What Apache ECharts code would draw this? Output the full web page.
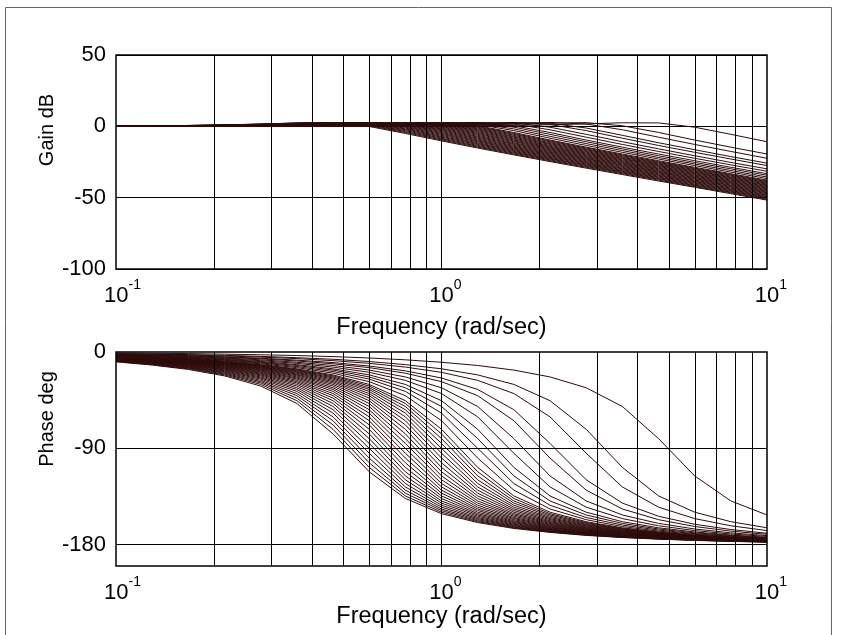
<!DOCTYPE html>
<html>
<head>
<meta charset="utf-8">
<script src="https://cdn.jsdelivr.net/npm/echarts@6/dist/echarts.min.js"></script>
<style>
  html, body { margin: 0; padding: 0; background: #fff; }
  #chart { width: 841px; height: 635px; }
</style>
</head>
<body>
<div id="chart"></div>
<script>
// Frequency samples (rad/sec), 9 per decade
const freq = [0.1, 0.1292, 0.1668, 0.2154, 0.2783, 0.3594, 0.4642, 0.5995, 0.7743, 1,
              1.2915, 1.6681, 2.1544, 2.7826, 3.5938, 4.6416, 5.9948, 7.7426, 10];

// Gain (dB) of each response in the family, one row per response
const gainDb = [
  [0.2,0.4,0.6,1.0,1.6,2.4,2.5,-0.1,-5.0,-10.2,-15.2,-20.0,-24.7,-29.3,-33.8,-38.3,-42.7,-47.2,-51.7],
  [0.2,0.4,0.6,1.0,1.6,2.3,2.6,0.4,-4.3,-9.6,-14.6,-19.4,-24.1,-28.7,-33.2,-37.7,-42.2,-46.6,-51.1],
  [0.2,0.3,0.6,0.9,1.5,2.2,2.7,0.9,-3.7,-8.9,-14.0,-18.8,-23.5,-28.1,-32.6,-37.1,-41.6,-46.1,-50.5],
  [0.2,0.3,0.5,0.9,1.4,2.1,2.7,1.3,-3.0,-8.3,-13.4,-18.2,-22.9,-27.5,-32.1,-36.6,-41.1,-45.5,-50.0],
  [0.2,0.3,0.5,0.8,1.3,2.0,2.7,1.6,-2.4,-7.6,-12.7,-17.6,-22.4,-27.0,-31.5,-36.0,-40.5,-45.0,-49.4],
  [0.2,0.3,0.5,0.8,1.2,1.9,2.6,1.9,-1.8,-7.0,-12.1,-17.0,-21.8,-26.4,-31.0,-35.5,-39.9,-44.4,-48.9],
  [0.2,0.3,0.4,0.7,1.2,1.8,2.6,2.2,-1.2,-6.3,-11.5,-16.4,-21.2,-25.8,-30.4,-34.9,-39.4,-43.9,-48.3],
  [0.1,0.2,0.4,0.7,1.1,1.7,2.5,2.4,-0.6,-5.6,-10.8,-15.8,-20.6,-25.3,-29.8,-34.3,-38.8,-43.3,-47.8],
  [0.1,0.2,0.4,0.6,1.0,1.6,2.4,2.5,-0.1,-5.0,-10.2,-15.2,-20.0,-24.7,-29.3,-33.8,-38.3,-42.7,-47.2],
  [0.1,0.2,0.4,0.6,1.0,1.6,2.3,2.6,0.4,-4.3,-9.6,-14.6,-19.4,-24.1,-28.7,-33.2,-37.7,-42.2,-46.6],
  [0.1,0.2,0.3,0.6,0.9,1.5,2.2,2.7,0.9,-3.7,-8.9,-14.0,-18.8,-23.5,-28.1,-32.6,-37.1,-41.6,-46.1],
  [0.1,0.2,0.3,0.5,0.9,1.4,2.1,2.7,1.3,-3.0,-8.3,-13.4,-18.2,-22.9,-27.5,-32.1,-36.6,-41.1,-45.5],
  [0.1,0.2,0.3,0.5,0.8,1.3,2.0,2.7,1.6,-2.4,-7.6,-12.7,-17.6,-22.4,-27.0,-31.5,-36.0,-40.5,-45.0],
  [0.1,0.2,0.3,0.5,0.8,1.2,1.9,2.6,1.9,-1.8,-7.0,-12.1,-17.0,-21.8,-26.4,-31.0,-35.5,-39.9,-44.4],
  [0.1,0.2,0.3,0.4,0.7,1.2,1.8,2.6,2.2,-1.2,-6.3,-11.5,-16.4,-21.2,-25.8,-30.4,-34.9,-39.4,-43.9],
  [0.1,0.1,0.2,0.4,0.7,1.1,1.7,2.5,2.4,-0.6,-5.6,-10.8,-15.8,-20.6,-25.3,-29.8,-34.3,-38.8,-43.3],
  [0.1,0.1,0.2,0.4,0.6,1.0,1.6,2.4,2.5,-0.1,-5.0,-10.2,-15.2,-20.0,-24.7,-29.3,-33.8,-38.3,-42.7],
  [0.1,0.1,0.2,0.4,0.6,1.0,1.6,2.3,2.6,0.4,-4.3,-9.6,-14.6,-19.4,-24.1,-28.7,-33.2,-37.7,-42.2],
  [0.1,0.1,0.2,0.3,0.6,0.9,1.5,2.2,2.7,0.9,-3.7,-8.9,-14.0,-18.8,-23.5,-28.1,-32.6,-37.1,-41.6],
  [0.1,0.1,0.2,0.3,0.5,0.9,1.4,2.1,2.7,1.3,-3.0,-8.3,-13.4,-18.2,-22.9,-27.5,-32.1,-36.6,-41.1],
  [0.1,0.1,0.2,0.3,0.5,0.8,1.3,2.0,2.7,1.6,-2.4,-7.6,-12.7,-17.6,-22.4,-27.0,-31.5,-36.0,-40.5],
  [0.1,0.1,0.2,0.3,0.5,0.8,1.2,1.9,2.6,1.9,-1.8,-7.0,-12.1,-17.0,-21.8,-26.4,-31.0,-35.5,-39.9],
  [0.0,0.1,0.2,0.3,0.4,0.7,1.2,1.8,2.6,2.2,-1.2,-6.3,-11.5,-16.4,-21.2,-25.8,-30.4,-34.9,-39.4],
  [0.0,0.1,0.1,0.2,0.4,0.7,1.1,1.7,2.5,2.4,-0.6,-5.6,-10.8,-15.8,-20.6,-25.3,-29.8,-34.3,-38.8],
  [0.0,0.1,0.1,0.2,0.4,0.6,1.0,1.6,2.4,2.5,-0.1,-5.0,-10.2,-15.2,-20.0,-24.7,-29.3,-33.8,-38.3],
  [0.0,0.1,0.1,0.2,0.4,0.6,1.0,1.6,2.3,2.6,0.4,-4.3,-9.6,-14.6,-19.4,-24.1,-28.7,-33.2,-37.7],
  [0.0,0.1,0.1,0.2,0.3,0.5,0.9,1.4,2.1,2.7,1.3,-3.0,-8.3,-13.4,-18.2,-22.9,-27.5,-32.1,-36.6],
  [0.0,0.1,0.1,0.2,0.3,0.5,0.8,1.2,1.9,2.6,1.9,-1.8,-7.0,-12.1,-17.0,-21.8,-26.4,-31.0,-35.5],
  [0.0,0.0,0.1,0.1,0.2,0.4,0.7,1.1,1.7,2.5,2.4,-0.6,-5.6,-10.8,-15.8,-20.6,-25.3,-29.8,-34.3],
  [0.0,0.0,0.1,0.1,0.2,0.4,0.6,1.0,1.6,2.3,2.6,0.4,-4.3,-9.6,-14.6,-19.4,-24.1,-28.7,-33.2],
  [0.0,0.0,0.1,0.1,0.2,0.3,0.5,0.8,1.3,2.0,2.7,1.6,-2.4,-7.6,-12.7,-17.6,-22.4,-27.0,-31.5],
  [0.0,0.0,0.0,0.1,0.1,0.2,0.4,0.7,1.1,1.7,2.5,2.4,-0.6,-5.6,-10.8,-15.8,-20.6,-25.3,-29.8],
  [0.0,0.0,0.0,0.1,0.1,0.2,0.3,0.5,0.9,1.4,2.1,2.7,1.3,-3.0,-8.3,-13.4,-18.2,-22.9,-27.5],
  [0.0,0.0,0.0,0.0,0.1,0.2,0.3,0.4,0.7,1.2,1.8,2.6,2.2,-1.2,-6.3,-11.5,-16.4,-21.2,-25.8],
  [0.0,0.0,0.0,0.0,0.1,0.1,0.2,0.3,0.5,0.8,1.3,2.0,2.7,1.6,-2.4,-7.6,-12.7,-17.6,-22.4],
  [0.0,0.0,0.0,0.0,0.0,0.1,0.1,0.2,0.4,0.6,1.0,1.6,2.3,2.6,0.4,-4.3,-9.6,-14.6,-19.4],
  [0.0,0.0,0.0,0.0,0.0,0.0,0.0,0.1,0.1,0.2,0.4,0.7,1.1,1.7,2.5,2.4,-0.6,-5.6,-10.8]
];

// Phase (deg) of the same responses, same row order
const phaseDeg = [
  [-9.2,-12.2,-16.3,-22.3,-31.8,-48.1,-76.5,-111.9,-136.9,-151.1,-159.4,-164.9,-168.6,-171.4,-173.4,-174.9,-176.1,-177.0,-177.7],
  [-8.9,-11.8,-15.7,-21.4,-30.3,-45.5,-72.2,-107.8,-134.5,-149.7,-158.6,-164.3,-168.2,-171.1,-173.2,-174.7,-175.9,-176.9,-177.6],
  [-8.6,-11.4,-15.1,-20.6,-28.9,-43.1,-68.1,-103.5,-131.9,-148.2,-157.7,-163.7,-167.8,-170.8,-172.9,-174.6,-175.8,-176.8,-177.5],
  [-8.4,-11.0,-14.6,-19.8,-27.7,-40.8,-64.2,-99.1,-129.1,-146.7,-156.7,-163.1,-167.4,-170.4,-172.7,-174.4,-175.7,-176.7,-177.4],
  [-8.1,-10.6,-14.1,-19.0,-26.5,-38.8,-60.6,-94.6,-126.1,-145.0,-155.7,-162.4,-166.9,-170.1,-172.4,-174.2,-175.5,-176.5,-177.3],
  [-7.8,-10.2,-13.6,-18.3,-25.3,-36.8,-57.1,-90.0,-122.9,-143.2,-154.7,-161.7,-166.4,-169.8,-172.2,-174.0,-175.4,-176.4,-177.2],
  [-7.6,-9.9,-13.1,-17.6,-24.3,-35.0,-53.9,-85.4,-119.4,-141.2,-153.5,-161.0,-165.9,-169.4,-171.9,-173.8,-175.2,-176.3,-177.2],
  [-7.3,-9.6,-12.6,-16.9,-23.3,-33.4,-50.9,-80.9,-115.8,-139.2,-152.3,-160.2,-165.4,-169.0,-171.6,-173.6,-175.1,-176.2,-177.1],
  [-7.1,-9.2,-12.2,-16.3,-22.3,-31.8,-48.1,-76.5,-111.9,-136.9,-151.1,-159.4,-164.9,-168.6,-171.4,-173.4,-174.9,-176.1,-177.0],
  [-6.8,-8.9,-11.8,-15.7,-21.4,-30.3,-45.5,-72.2,-107.8,-134.5,-149.7,-158.6,-164.3,-168.2,-171.1,-173.2,-174.7,-175.9,-176.9],
  [-6.6,-8.6,-11.4,-15.1,-20.6,-28.9,-43.1,-68.1,-103.5,-131.9,-148.2,-157.7,-163.7,-167.8,-170.8,-172.9,-174.6,-175.8,-176.8],
  [-6.4,-8.4,-11.0,-14.6,-19.8,-27.7,-40.8,-64.2,-99.1,-129.1,-146.7,-156.7,-163.1,-167.4,-170.4,-172.7,-174.4,-175.7,-176.7],
  [-6.2,-8.1,-10.6,-14.1,-19.0,-26.5,-38.8,-60.6,-94.6,-126.1,-145.0,-155.7,-162.4,-166.9,-170.1,-172.4,-174.2,-175.5,-176.5],
  [-6.0,-7.8,-10.2,-13.6,-18.3,-25.3,-36.8,-57.1,-90.0,-122.9,-143.2,-154.7,-161.7,-166.4,-169.8,-172.2,-174.0,-175.4,-176.4],
  [-5.8,-7.6,-9.9,-13.1,-17.6,-24.3,-35.0,-53.9,-85.4,-119.4,-141.2,-153.5,-161.0,-165.9,-169.4,-171.9,-173.8,-175.2,-176.3],
  [-5.6,-7.3,-9.6,-12.6,-16.9,-23.3,-33.4,-50.9,-80.9,-115.8,-139.2,-152.3,-160.2,-165.4,-169.0,-171.6,-173.6,-175.1,-176.2],
  [-5.4,-7.1,-9.2,-12.2,-16.3,-22.3,-31.8,-48.1,-76.5,-111.9,-136.9,-151.1,-159.4,-164.9,-168.6,-171.4,-173.4,-174.9,-176.1],
  [-5.3,-6.8,-8.9,-11.8,-15.7,-21.4,-30.3,-45.5,-72.2,-107.8,-134.5,-149.7,-158.6,-164.3,-168.2,-171.1,-173.2,-174.7,-175.9],
  [-5.1,-6.6,-8.6,-11.4,-15.1,-20.6,-28.9,-43.1,-68.1,-103.5,-131.9,-148.2,-157.7,-163.7,-167.8,-170.8,-172.9,-174.6,-175.8],
  [-4.9,-6.4,-8.4,-11.0,-14.6,-19.8,-27.7,-40.8,-64.2,-99.1,-129.1,-146.7,-156.7,-163.1,-167.4,-170.4,-172.7,-174.4,-175.7],
  [-4.8,-6.2,-8.1,-10.6,-14.1,-19.0,-26.5,-38.8,-60.6,-94.6,-126.1,-145.0,-155.7,-162.4,-166.9,-170.1,-172.4,-174.2,-175.5],
  [-4.6,-6.0,-7.8,-10.2,-13.6,-18.3,-25.3,-36.8,-57.1,-90.0,-122.9,-143.2,-154.7,-161.7,-166.4,-169.8,-172.2,-174.0,-175.4],
  [-4.5,-5.8,-7.6,-9.9,-13.1,-17.6,-24.3,-35.0,-53.9,-85.4,-119.4,-141.2,-153.5,-161.0,-165.9,-169.4,-171.9,-173.8,-175.2],
  [-4.3,-5.6,-7.3,-9.6,-12.6,-16.9,-23.3,-33.4,-50.9,-80.9,-115.8,-139.2,-152.3,-160.2,-165.4,-169.0,-171.6,-173.6,-175.1],
  [-4.2,-5.4,-7.1,-9.2,-12.2,-16.3,-22.3,-31.8,-48.1,-76.5,-111.9,-136.9,-151.1,-159.4,-164.9,-168.6,-171.4,-173.4,-174.9],
  [-4.1,-5.3,-6.8,-8.9,-11.8,-15.7,-21.4,-30.3,-45.5,-72.2,-107.8,-134.5,-149.7,-158.6,-164.3,-168.2,-171.1,-173.2,-174.7],
  [-3.8,-4.9,-6.4,-8.4,-11.0,-14.6,-19.8,-27.7,-40.8,-64.2,-99.1,-129.1,-146.7,-156.7,-163.1,-167.4,-170.4,-172.7,-174.4],
  [-3.6,-4.6,-6.0,-7.8,-10.2,-13.6,-18.3,-25.3,-36.8,-57.1,-90.0,-122.9,-143.2,-154.7,-161.7,-166.4,-169.8,-172.2,-174.0],
  [-3.3,-4.3,-5.6,-7.3,-9.6,-12.6,-16.9,-23.3,-33.4,-50.9,-80.9,-115.8,-139.2,-152.3,-160.2,-165.4,-169.0,-171.6,-173.6],
  [-3.1,-4.1,-5.3,-6.8,-8.9,-11.8,-15.7,-21.4,-30.3,-45.5,-72.2,-107.8,-134.5,-149.7,-158.6,-164.3,-168.2,-171.1,-173.2],
  [-2.8,-3.7,-4.8,-6.2,-8.1,-10.6,-14.1,-19.0,-26.5,-38.8,-60.6,-94.6,-126.1,-145.0,-155.7,-162.4,-166.9,-170.1,-172.4],
  [-2.6,-3.3,-4.3,-5.6,-7.3,-9.6,-12.6,-16.9,-23.3,-33.4,-50.9,-80.9,-115.8,-139.2,-152.3,-160.2,-165.4,-169.0,-171.6],
  [-2.3,-2.9,-3.8,-4.9,-6.4,-8.4,-11.0,-14.6,-19.8,-27.7,-40.8,-64.2,-99.1,-129.1,-146.7,-156.7,-163.1,-167.4,-170.4],
  [-2.1,-2.7,-3.5,-4.5,-5.8,-7.6,-9.9,-13.1,-17.6,-24.3,-35.0,-53.9,-85.4,-119.4,-141.2,-153.5,-161.0,-165.9,-169.4],
  [-1.7,-2.2,-2.8,-3.7,-4.8,-6.2,-8.1,-10.6,-14.1,-19.0,-26.5,-38.8,-60.6,-94.6,-126.1,-145.0,-155.7,-162.4,-166.9],
  [-1.5,-1.9,-2.4,-3.1,-4.1,-5.3,-6.8,-8.9,-11.8,-15.7,-21.4,-30.3,-45.5,-72.2,-107.8,-134.5,-149.7,-158.6,-164.3],
  [-0.9,-1.2,-1.5,-2.0,-2.6,-3.3,-4.3,-5.6,-7.3,-9.6,-12.6,-16.9,-23.3,-33.4,-50.9,-80.9,-115.8,-139.2,-152.3]
];

// Grid-line frequencies inside each decade
const freqGridLines = [0.2, 0.3, 0.4, 0.5, 0.6, 0.7, 0.8, 0.9, 1, 2, 3, 4, 5, 6, 7, 8, 9];
// Decade tick labels: 10^exponent
const decadeExponents = { '-1': '-1', '0': '0', '1': '1' };
// Phase tick labels shown on the axis
const phaseTicks = [0, -90, -180];
const phaseGridLines = [-90, -180];
// Axis titles
const freqTitle = 'Frequency (rad/sec)';
const gainTitle = 'Gain dB';
const phaseTitle = 'Phase deg';

const FONT = '"Liberation Sans", Arial, Helvetica, sans-serif';
const CURVE = '#2e0b0b';
const GRID = { left: 116, width: 651 };

function decadeLabel(v) {
  const e = String(Math.round(Math.log10(v)));
  const exp = decadeExponents[e] || e;
  const pad = exp.length > 1 ? 'p2' : 'p1';
  return '{' + pad + '|}{b|10}{s|' + exp + '}';
}
const decadeRich = {
  b: { fontSize: 22, fontFamily: FONT, color: '#000', lineHeight: 29, verticalAlign: 'bottom' },
  s: { fontSize: 14, fontFamily: FONT, color: '#000', lineHeight: 14, verticalAlign: 'top' },
  p1: { width: 8 },
  p2: { width: 13 }
};

function freqAxis(gridIndex, gap) {
  return {
    type: 'log', logBase: 10, min: 0.1, max: 10, gridIndex,
    axisLine: { show: false }, axisTick: { show: false }, splitLine: { show: false },
    axisLabel: { margin: 9, formatter: decadeLabel, rich: decadeRich },
    name: freqTitle, nameLocation: 'middle', nameGap: gap,
    nameTextStyle: { fontSize: 23.5, fontFamily: FONT, color: '#000' }
  };
}

const series = [];
gainDb.forEach(row => {
  series.push({
    type: 'line', xAxisIndex: 0, yAxisIndex: 0, symbol: 'none', silent: true, z: 3,
    data: freq.map((f, k) => [f, row[k]]),
    lineStyle: { color: CURVE, width: 1 }
  });
});
phaseDeg.forEach(row => {
  series.push({
    type: 'line', xAxisIndex: 1, yAxisIndex: 1, symbol: 'none', silent: true, z: 3,
    data: freq.map((f, k) => [f, row[k]]),
    lineStyle: { color: CURVE, width: 1 }
  });
});
// Vertical / horizontal grid lines
const gridLineStyle = { color: '#000', width: 1, type: 'solid' };
series.push({
  type: 'line', xAxisIndex: 0, yAxisIndex: 0, data: [], z: 2, silent: true,
  markLine: { silent: true, symbol: 'none', label: { show: false }, animation: false,
    lineStyle: gridLineStyle, data: freqGridLines.map(v => ({ xAxis: v })) }
});
series.push({
  type: 'line', xAxisIndex: 1, yAxisIndex: 1, data: [], z: 2, silent: true,
  markLine: { silent: true, symbol: 'none', label: { show: false }, animation: false,
    lineStyle: gridLineStyle,
    data: freqGridLines.map(v => ({ xAxis: v })).concat(phaseGridLines.map(v => ({ yAxis: v }))) }
});

const yTitleStyle = { fontSize: 20, fontFamily: FONT, fill: '#000', align: 'center', verticalAlign: 'middle' };

const chart = echarts.init(document.getElementById('chart'), null, { renderer: 'canvas' });
chart.setOption({
  animation: false,
  backgroundColor: '#fff',
  grid: [
    { left: GRID.left, width: GRID.width, top: 55, height: 214, show: true, borderColor: '#000', borderWidth: 1.5, backgroundColor: 'transparent', z: 4 },
    { left: GRID.left, width: GRID.width, top: 352, height: 214, show: true, borderColor: '#000', borderWidth: 1.5, backgroundColor: 'transparent', z: 4 }
  ],
  xAxis: [freqAxis(0, 47), freqAxis(1, 34)],
  yAxis: [
    {
      type: 'value', gridIndex: 0, min: -100, max: 50, interval: 50,
      axisLine: { show: false }, axisTick: { show: false },
      splitLine: { show: true, lineStyle: gridLineStyle },
      axisLabel: { margin: 10, fontSize: 22, fontFamily: FONT, color: '#000' }
    },
    {
      type: 'value', gridIndex: 1, min: -200, max: 0, interval: 10,
      axisLine: { show: false }, axisTick: { show: false }, splitLine: { show: false },
      axisLabel: { margin: 10, fontSize: 22, fontFamily: FONT, color: '#000',
        formatter: v => (phaseTicks.indexOf(v) >= 0 ? String(v) : '') }
    }
  ],
  graphic: [
    {
      type: 'rect', silent: true, z: 0,
      shape: { x: 5.5, y: 7.5, width: 826, height: 700 },
      style: { fill: 'none', stroke: '#666', lineWidth: 1 }
    },
    { type: 'text', silent: true, x: 47, y: 130, rotation: Math.PI / 2, style: Object.assign({ text: gainTitle }, yTitleStyle) },
    { type: 'text', silent: true, x: 47, y: 419, rotation: Math.PI / 2, style: Object.assign({ text: phaseTitle }, yTitleStyle) }
  ],
  series
});
</script>
</body>
</html>
